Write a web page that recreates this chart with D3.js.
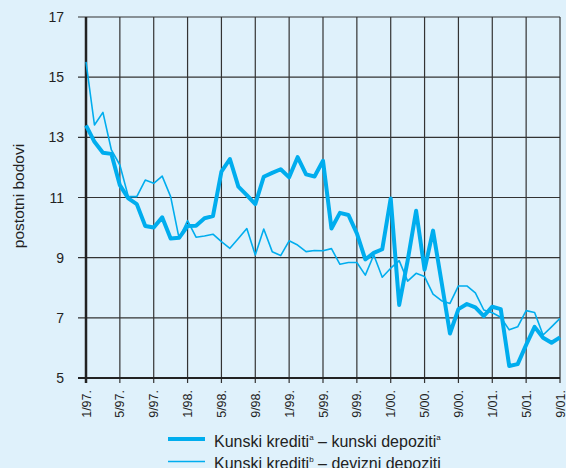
<!DOCTYPE html>
<html>
<head>
<meta charset="utf-8">
<script src="https://cdn.jsdelivr.net/npm/d3@7"></script>
<style>
  html, body { margin: 0; padding: 0; background: #dff1fb; }
  svg { display: block; font-family: "Liberation Sans", Arial, sans-serif; }
</style>
</head>
<body>
<script>
// monthly data, 1/97 .. 9/01
const tickLabels = ['1/97.', '5/97.', '9/97.', '1/98.', '5/98.', '9/98.', '1/99.', '5/99.',
  '9/99.', '1/00.', '5/00.', '9/00.', '1/01.', '5/01.', '9/01.']
const kunKun = [13.4, 12.85, 12.49, 12.45, 11.41, 10.97, 10.78, 10.05, 10.0, 10.34, 9.64, 9.66,
  10.05, 10.06, 10.31, 10.38, 11.86, 12.28, 11.36, 11.08, 10.78, 11.69, 11.82, 11.94,
  11.67, 12.34, 11.77, 11.7, 12.22, 9.97, 10.49, 10.42, 9.81, 8.94, 9.16, 9.28,
  10.97, 7.43, 8.9, 10.56, 8.6, 9.9, 8.2, 6.48, 7.29, 7.46, 7.35, 7.06,
  7.37, 7.29, 5.4, 5.46, 6.1, 6.7, 6.34, 6.17, 6.35]
const kunDev = [15.51, 13.41, 13.83, 12.58, 12.08, 11.03, 11.03, 11.58, 11.47, 11.71, 11.03, 9.64,
  10.23, 9.68, 9.72, 9.78, 9.53, 9.31, 9.64, 9.97, 9.09, 9.95, 9.2, 9.07,
  9.56, 9.42, 9.2, 9.24, 9.23, 9.3, 8.78, 8.84, 8.84, 8.42, 9.09, 8.35,
  8.65, 8.9, 8.22, 8.48, 8.37, 7.79, 7.57, 7.48, 8.06, 8.06, 7.83, 7.26,
  7.17, 7.02, 6.6, 6.7, 7.24, 7.18, 6.43, 6.7, 6.98]
const yTicks = [5, 7, 9, 11, 13, 15, 17]

const width = 566, height = 468
const blue = '#00adee'
const pLeft = 86, pRight = 560, pTop = 17, pBottom = 378

const svg = d3.select('body').append('svg').attr('width', width).attr('height', height)

const x = d3.scaleLinear().domain([0, kunKun.length - 1]).range([pLeft, pRight])
const y = d3.scaleLinear().domain([5, 17]).range([pBottom, pTop])

// grid
const g = svg.append('g')
g.selectAll('line.v').data(tickLabels).enter().append('line')
  .attr('x1', (d, i) => x(i * 4)).attr('x2', (d, i) => x(i * 4))
  .attr('y1', pTop).attr('y2', pBottom + 5)
  .attr('stroke', '#333').attr('stroke-width', 1.2)
g.selectAll('line.h').data(yTicks).enter().append('line')
  .attr('x1', pLeft - 8).attr('x2', pRight)
  .attr('y1', d => y(d)).attr('y2', d => y(d))
  .attr('stroke', '#333').attr('stroke-width', 1.2)

// axes lines
svg.append('line').attr('x1', pLeft).attr('x2', pLeft).attr('y1', pTop).attr('y2', pBottom + 5)
  .attr('stroke', '#222').attr('stroke-width', 2.5)
svg.append('line').attr('x1', pLeft - 8).attr('x2', pRight).attr('y1', pBottom).attr('y2', pBottom)
  .attr('stroke', '#222').attr('stroke-width', 2)

// y labels
svg.selectAll('text.yl').data(yTicks).enter().append('text')
  .attr('x', 64).attr('y', d => y(d) + 5)
  .attr('text-anchor', 'end').attr('font-size', 14).attr('fill', '#222')
  .text(d => d)

// x labels
svg.selectAll('text.xl').data(tickLabels).enter().append('text')
  .attr('transform', (d, i) => `translate(${x(i * 4) + 4.5},390) rotate(-90)`)
  .attr('text-anchor', 'end').attr('font-size', 12.5).attr('fill', '#222')
  .text(d => d)

svg.append('text')
  .attr('transform', `translate(24,196) rotate(-90)`)
  .attr('text-anchor', 'middle').attr('font-size', 15.5).attr('fill', '#222')
  .text('postotni bodovi')

const line = d3.line().x((d, i) => x(i)).y(d => y(d))

svg.append('path').datum(kunDev).attr('d', line)
  .attr('fill', 'none').attr('stroke', blue).attr('stroke-width', 1.6).attr('stroke-linejoin', 'round')
svg.append('path').datum(kunKun).attr('d', line)
  .attr('fill', 'none').attr('stroke', blue).attr('stroke-width', 4).attr('stroke-linejoin', 'round')

// legend
const legend = [
  {w: 4, parts: ['Kunski kredit', 'i', 'a', ' – kunski depozit', 'i', 'a']},
  {w: 1.6, parts: ['Kunski kredit', 'i', 'b', ' – devizni depoziti']}
]
legend.forEach((l, k) => {
  const ly = 439 + k * 22.5
  svg.append('line').attr('x1', 168).attr('x2', 205).attr('y1', ly).attr('y2', ly)
    .attr('stroke', blue).attr('stroke-width', l.w)
  const t = svg.append('text').attr('x', 214).attr('y', ly + 7.5).attr('font-size', 16).attr('fill', '#222')
  l.parts.forEach((p, j) => {
    const sup = (p === 'a' || p === 'b')
    t.append('tspan').text(p)
      .attr('font-size', sup ? 8 : 16)
      .attr('dy', sup ? -7 : (j > 0 && (l.parts[j - 1] === 'a' || l.parts[j - 1] === 'b') ? 7 : 0))
  })
})
</script>
</body>
</html>
